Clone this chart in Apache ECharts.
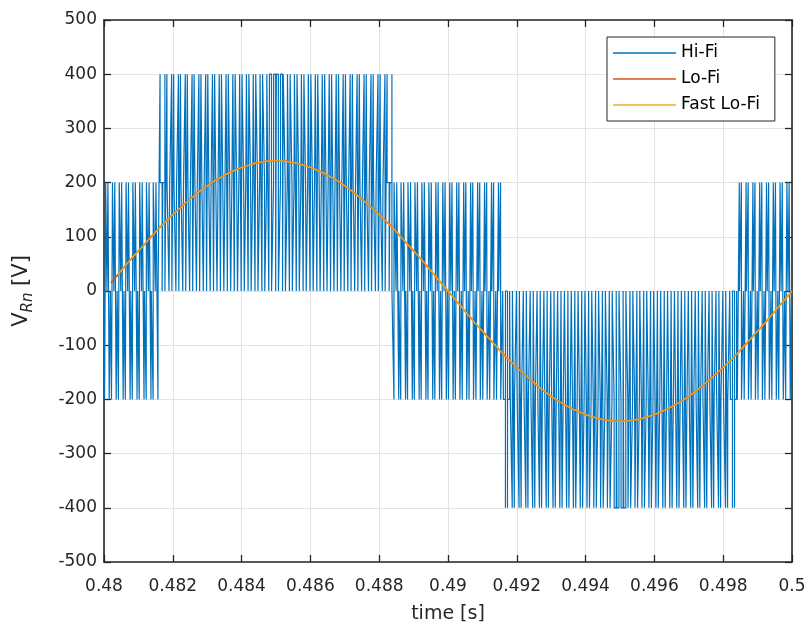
<!DOCTYPE html>
<html><head><meta charset="utf-8">
<script src="https://cdn.jsdelivr.net/npm/echarts@6/dist/echarts.min.js"></script>
<style>html,body{margin:0;padding:0;background:#fff}#c{width:807px;height:627px}</style>
</head><body><div id="c"></div>
<script>
// ---- data ----
const seriesNames = ['Hi-Fi', 'Lo-Fi', 'Fast Lo-Fi'];
const xTickStep = 0.002;
const yTickStep = 100;

// Hi-Fi: switching edges inside each 200 us carrier period (offset from period start, in us)
const T0 = 0.48;
const carrierPeriodUs = 200;
const hifiEdgesUs = [
[16.0,48.7,85.2,114.8,151.3,184.0],[17.4,46.2,86.4,113.6,153.8,182.6],[18.9,43.7,87.3,112.7,156.3,181.1],[20.6,41.3,88.2,111.8,158.7,179.4],
[22.3,38.8,88.8,111.2,161.2,177.7],[24.2,36.5,89.4,110.6,163.5,175.8],[26.2,34.1,89.7,110.3,165.9,173.8],[28.2,31.8,89.9,110.1,168.2,171.8],
[29.6,30.4,90.0,110.0,169.6,170.4],[27.5,32.6,89.9,110.1,167.4,172.5],[25.5,34.9,89.6,110.4,165.1,174.5],[23.5,37.2,89.2,110.8,162.8,176.5],
[21.7,39.6,88.6,111.4,160.4,178.3],[20.0,42.1,87.9,112.1,157.9,180.0],[18.4,44.6,87.0,113.0,155.4,181.6],[16.9,47.1,86.0,114.0,152.9,183.1],
[15.6,49.6,84.8,115.2,150.4,184.4],[14.4,52.1,83.6,116.4,147.9,185.6],[13.3,54.6,82.1,117.9,145.4,186.7],[12.4,57.1,80.6,119.4,142.9,187.6],
[11.6,59.6,78.9,121.1,140.4,188.4],[11.0,62.0,77.1,122.9,138.0,189.0],[10.5,64.3,75.2,124.8,135.7,189.5],[10.2,66.7,73.2,126.8,133.3,189.8],
[10.0,68.9,71.1,128.9,131.1,190.0],[10.0,68.9,71.1,128.9,131.1,190.0],[10.2,66.7,73.2,126.8,133.3,189.8],[10.5,64.3,75.2,124.8,135.7,189.5],
[11.0,62.0,77.1,122.9,138.0,189.0],[11.6,59.6,78.9,121.1,140.4,188.4],[12.4,57.1,80.6,119.4,142.9,187.6],[13.3,54.6,82.1,117.9,145.4,186.7],
[14.4,52.1,83.6,116.4,147.9,185.6],[15.6,49.6,84.8,115.2,150.4,184.4],[16.9,47.1,86.0,114.0,152.9,183.1],[18.4,44.6,87.0,113.0,155.4,181.6],
[20.0,42.1,87.9,112.1,157.9,180.0],[21.7,39.6,88.6,111.4,160.4,178.3],[23.5,37.2,89.2,110.8,162.8,176.5],[25.5,34.9,89.6,110.4,165.1,174.5],
[27.5,32.6,89.9,110.1,167.4,172.5],[29.6,30.4,90.0,110.0,169.6,170.4],[28.2,31.8,89.9,110.1,168.2,171.8],[26.2,34.1,89.7,110.3,165.9,173.8],
[24.2,36.5,89.4,110.6,163.5,175.8],[22.3,38.8,88.8,111.2,161.2,177.7],[20.6,41.3,88.2,111.8,158.7,179.4],[18.9,43.7,87.3,112.7,156.3,181.1],
[17.4,46.2,86.4,113.6,153.8,182.6],[16.0,48.7,85.2,114.8,151.3,184.0],
[14.8,51.3,84.0,116.0,148.7,185.2],[13.6,53.8,82.6,117.4,146.2,186.4],[12.7,56.3,81.1,118.9,143.7,187.3],[11.8,58.7,79.4,120.6,141.3,188.2],
[11.2,61.2,77.7,122.3,138.8,188.8],[10.6,63.5,75.8,124.2,136.5,189.4],[10.3,65.9,73.8,126.2,134.1,189.7],[10.1,68.2,71.8,128.2,131.8,189.9],
[10.0,69.6,70.4,129.6,130.4,190.0],[10.1,67.4,72.5,127.5,132.6,189.9],[10.4,65.1,74.5,125.5,134.9,189.6],[10.8,62.8,76.5,123.5,137.2,189.2],
[11.4,60.4,78.3,121.7,139.6,188.6],[12.1,57.9,80.0,120.0,142.1,187.9],[13.0,55.4,81.6,118.4,144.6,187.0],[14.0,52.9,83.1,116.9,147.1,186.0],
[15.2,50.4,84.4,115.6,149.6,184.8],[16.4,47.9,85.6,114.4,152.1,183.6],[17.9,45.4,86.7,113.3,154.6,182.1],[19.4,42.9,87.6,112.4,157.1,180.6],
[21.1,40.4,88.4,111.6,159.6,178.9],[22.9,38.0,89.0,111.0,162.0,177.1],[24.8,35.7,89.5,110.5,164.3,175.2],[26.8,33.3,89.8,110.2,166.7,173.2],
[28.9,31.1,90.0,110.0,168.9,171.1],[28.9,31.1,90.0,110.0,168.9,171.1],[26.8,33.3,89.8,110.2,166.7,173.2],[24.8,35.7,89.5,110.5,164.3,175.2],
[22.9,38.0,89.0,111.0,162.0,177.1],[21.1,40.4,88.4,111.6,159.6,178.9],[19.4,42.9,87.6,112.4,157.1,180.6],[17.9,45.4,86.7,113.3,154.6,182.1],
[16.4,47.9,85.6,114.4,152.1,183.6],[15.2,50.4,84.4,115.6,149.6,184.8],[14.0,52.9,83.1,116.9,147.1,186.0],[13.0,55.4,81.6,118.4,144.6,187.0],
[12.1,57.9,80.0,120.0,142.1,187.9],[11.4,60.4,78.3,121.7,139.6,188.6],[10.8,62.8,76.5,123.5,137.2,189.2],[10.4,65.1,74.5,125.5,134.9,189.6],
[10.1,67.4,72.5,127.5,132.6,189.9],[10.0,69.6,70.4,129.6,130.4,190.0],[10.1,68.2,71.8,128.2,131.8,189.9],[10.3,65.9,73.8,126.2,134.1,189.7],
[10.6,63.5,75.8,124.2,136.5,189.4],[11.2,61.2,77.7,122.3,138.8,188.8],[11.8,58.7,79.4,120.6,141.3,188.2],[12.7,56.3,81.1,118.9,143.7,187.3],
[13.6,53.8,82.6,117.4,146.2,186.4],[14.8,51.3,84.0,116.0,148.7,185.2]
];
// voltage level reached at each edge above (V)
const lvA = [-200,200,0,200,-200,0];
const lvB = [400,200,0,200,400,0];
const lvC = [-200,-400,0,-400,-200,0];
const hifiLevels = [
lvA,lvA,lvA,lvA,lvA,lvA,lvA,lvA,
lvB,lvB,lvB,lvB,lvB,lvB,lvB,lvB,lvB,lvB,lvB,lvB,lvB,lvB,lvB,lvB,lvB,lvB,lvB,lvB,lvB,lvB,lvB,lvB,lvB,lvB,lvB,lvB,lvB,lvB,lvB,lvB,lvB,lvB,
lvA,lvA,lvA,lvA,lvA,lvA,lvA,lvA,
lvA,lvA,lvA,lvA,lvA,lvA,lvA,lvA,
lvC,lvC,lvC,lvC,lvC,lvC,lvC,lvC,lvC,lvC,lvC,lvC,lvC,lvC,lvC,lvC,lvC,lvC,lvC,lvC,lvC,lvC,lvC,lvC,lvC,lvC,lvC,lvC,lvC,lvC,lvC,lvC,lvC,lvC,
lvA,lvA,lvA,lvA,lvA,lvA,lvA,lvA
];

// Lo-Fi: sampled every 0.2 ms from 0.4802 s
const loFiStart = 0.4802, loFiStep = 0.0002;
const loFiValues = [
15,30,45,60,74,88,102,116,129,141,153,164,175,185,194,203,210,217,223,228,232,236,238,240,240,
240,238,236,232,228,223,217,210,203,194,185,175,164,153,141,129,116,102,88,74,60,45,30,15,0,
-15,-30,-45,-60,-74,-88,-102,-116,-129,-141,-153,-164,-175,-185,-194,-203,-210,-217,-223,-228,-232,-236,-238,-240,-240,
-240,-238,-236,-232,-228,-223,-217,-210,-203,-194,-185,-175,-164,-153,-141,-129,-116,-102,-88,-74,-60,-45,-30,-15,0
];
// Fast Lo-Fi: sampled every 0.4 ms from 0.4804 s
const fastStart = 0.4804, fastStep = 0.0004;
const fastLoFiValues = [
30,60,88,116,141,164,185,203,217,228,236,240,240,236,228,217,203,185,164,141,116,88,60,30,0,
-30,-60,-88,-116,-141,-164,-185,-203,-217,-228,-236,-240,-240,-236,-228,-217,-203,-185,-164,-141,-116,-88,-60,-30,0
];

// ---- build series data ----
const hifiData = [[T0, 0]];
hifiEdgesUs.forEach((row, k) => row.forEach((us, j) => {
  hifiData.push([T0 + (k * carrierPeriodUs + us) / 1e6, hifiLevels[k][j]]);
}));
hifiData.push([0.5, 0]);
const loFiData = loFiValues.map((v, i) => [loFiStart + i * loFiStep, v]);
const fastData = fastLoFiValues.map((v, i) => [fastStart + i * fastStep, v]);

const FONT = '"DejaVu Sans", Arial, sans-serif';
const AX = '#262626';
const chart = echarts.init(document.getElementById('c'), null, {renderer: 'canvas'});
const axisCommon = {
  axisLine: {show: true, onZero: false, lineStyle: {color: AX, width: 1.6}},
  axisTick: {show: true, inside: true, length: 7, lineStyle: {color: AX, width: 1.3}},
};
chart.setOption({
  animation: false,
  backgroundColor: '#fff',
  grid: {left: 104, right: 15, top: 20, bottom: 65, containLabel: false, outerBoundsMode: 'none'},
  legend: {
    left: 607, top: 37, orient: 'vertical',
    data: seriesNames.map(n => ({name: n, icon: 'rect'})),
    itemWidth: 63, itemHeight: 1.5, itemGap: 8,
    padding: [7, 15, 7, 6],
    backgroundColor: '#fff', borderColor: AX, borderWidth: 1, borderRadius: 0,
    textStyle: {fontFamily: FONT, fontSize: 17, color: '#000', lineHeight: 18}
  },
  xAxis: [
    Object.assign({
      type: 'value', min: 0.48, max: 0.5, interval: xTickStep, position: 'bottom',
      axisLabel: {fontFamily: FONT, fontSize: 17, color: AX, margin: 16,
        formatter: v => String(+v.toFixed(3))},
      splitLine: {show: true, lineStyle: {color: '#e3e3e3', width: 1}},
      name: 'time [s]', nameLocation: 'middle', nameGap: 43,
      nameTextStyle: {fontFamily: FONT, fontSize: 19, color: AX}
    }, axisCommon),
    Object.assign({
      type: 'value', min: 0.48, max: 0.5, interval: xTickStep, position: 'top',
      axisLabel: {show: false}, splitLine: {show: false}
    }, axisCommon)
  ],
  yAxis: [
    Object.assign({
      type: 'value', min: -500, max: 500, interval: yTickStep, position: 'left',
      axisLabel: {fontFamily: FONT, fontSize: 17, color: AX, margin: 7},
      splitLine: {show: true, lineStyle: {color: '#e3e3e3', width: 1}},
      name: '{b|V}{s|Rn}{b| [V]}', nameLocation: 'middle', nameRotate: 90, nameGap: 68,
      nameTextStyle: {fontFamily: FONT, color: AX, rich: {
        b: {fontFamily: FONT, fontSize: 21, color: AX, lineHeight: 29, verticalAlign: 'middle'},
        s: {fontFamily: FONT, fontSize: 15, color: AX, fontStyle: 'italic', lineHeight: 15, verticalAlign: 'bottom'}
      }}
    }, axisCommon),
    Object.assign({
      type: 'value', min: -500, max: 500, interval: yTickStep, position: 'right',
      axisLabel: {show: false}, splitLine: {show: false}
    }, axisCommon)
  ],
  series: [
    {name: 'Hi-Fi', type: 'line', step: 'end', data: hifiData, showSymbol: false, symbol: 'none',
     xAxisIndex: 0, yAxisIndex: 0, color: '#0072BD', lineStyle: {color: '#0072BD', width: 1.2}, clip: true, silent: true},
    {name: 'Lo-Fi', type: 'line', data: loFiData, showSymbol: false, symbol: 'none',
     color: '#D95319', lineStyle: {color: '#D95319', width: 1.8}, clip: true, silent: true},
    {name: 'Fast Lo-Fi', type: 'line', data: fastData, showSymbol: false, symbol: 'none',
     color: '#EDB120', lineStyle: {color: '#EDB120', width: 1.2}, clip: true, silent: true}
  ]
});
</script></body></html>
